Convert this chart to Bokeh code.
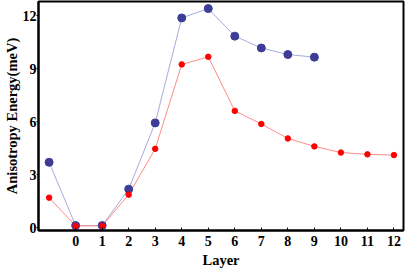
from bokeh.plotting import figure
from bokeh.models import Range1d, FixedTicker
from bokeh.embed import file_html
from bokeh.resources import INLINE

# data
layers_blue = [-1, 0, 1, 2, 3, 4, 5, 6, 7, 8, 9]
energy_blue = [3.7, 0.12, 0.12, 2.18, 5.93, 11.87, 12.4, 10.84, 10.17, 9.8, 9.65]
layers_red = [-1, 0, 1, 2, 3, 4, 5, 6, 7, 8, 9, 10, 11, 12]
energy_red = [1.7, 0.1, 0.1, 1.87, 4.46, 9.24, 9.67, 6.61, 5.87, 5.05, 4.6, 4.25, 4.15, 4.11]
x_ticks = list(range(0, 13))
y_ticks = [0, 3, 6, 9, 12]

FONT = "Liberation Serif"

p = figure(width=405, height=270, output_backend="svg", toolbar_location=None,
           x_range=Range1d(-1.4, 12.36), y_range=Range1d(-0.16, 12.8),
           min_border_top=1, min_border_right=2, min_border_left=0, min_border_bottom=0)

p.outline_line_color = "black"
p.outline_line_width = 2
p.outline_line_alpha = 1
p.xgrid.visible = False
p.ygrid.visible = False
p.background_fill_color = "white"
p.border_fill_color = "white"

blue_line = "#a9a9dc"
blue_dot = "#3d3d98"
red_line = "#ff8a8a"
red_dot = "#ff0000"

p.line(layers_blue, energy_blue, line_color=blue_line, line_width=1)
p.line(layers_red, energy_red, line_color=red_line, line_width=1)
p.scatter(layers_blue, energy_blue, size=8, fill_color=blue_dot, line_color=blue_dot)
p.scatter(layers_red, energy_red, size=5.5, fill_color=red_dot, line_color=red_dot)

for ax in (p.xaxis[0], p.yaxis[0]):
    ax.axis_line_color = "black"
    ax.axis_line_width = 2
    ax.major_tick_line_color = "black"
    ax.major_tick_line_width = 1
    ax.minor_tick_line_color = None
    ax.major_label_text_font = FONT
    ax.major_label_text_font_style = "bold"
    ax.major_label_text_font_size = "14px"
    ax.major_label_text_color = "black"
    ax.axis_label_text_font = FONT
    ax.axis_label_text_font_style = "bold"
    ax.axis_label_text_font_size = "14.5px"
    ax.axis_label_text_color = "black"

p.xaxis.ticker = FixedTicker(ticks=x_ticks)
p.yaxis.ticker = FixedTicker(ticks=y_ticks)
p.xaxis.axis_label = "Layer"
p.yaxis.axis_label = "Anisotropy Energy(meV)"

p.xaxis.major_tick_in = 3
p.xaxis.major_tick_out = 0
p.xaxis.major_label_standoff = 5
p.xaxis.axis_label_standoff = 3

p.yaxis.major_tick_in = 0
p.yaxis.major_tick_out = 2
p.yaxis.major_label_standoff = 0
p.yaxis.axis_label_standoff = 0

open("out.html", "w").write(file_html(p, INLINE))
